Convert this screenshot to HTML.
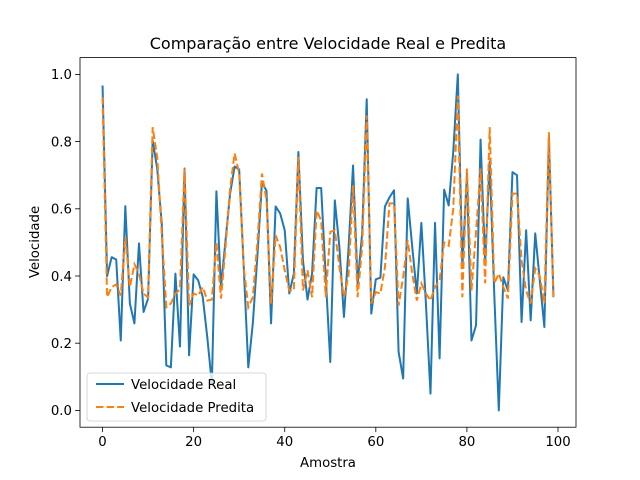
<!DOCTYPE html>
<html><head><meta charset="utf-8"><style>
html,body{margin:0;padding:0;background:#fff;}
svg{display:block;font-family:"DejaVu Sans","Liberation Sans",sans-serif;}
</style></head><body>
<svg id="chart" width="640" height="480" viewBox="0 0 640 480">
<rect width="640" height="480" fill="#fff"/>
<text x="328" y="49" text-anchor="middle" font-size="16" fill="#000">Comparação entre Velocidade Real e Predita</text>
<g id="plot"></g>
<rect x="80" y="57.6" width="496" height="369.6" fill="none" stroke="#000" stroke-width="0.8"/>
<text x="328" y="467" text-anchor="middle" font-size="13.3">Amostra</text>
<text transform="translate(39,242) rotate(-90)" text-anchor="middle" font-size="13.3">Velocidade</text>
<g>
<rect x="87" y="373" width="179" height="48" rx="3" fill="#fff" fill-opacity="0.8" stroke="#ccc" stroke-width="0.8"/>
<g>
<line x1="96" y1="384" x2="124" y2="384" stroke="#1f77b4" stroke-width="2"/>
<text x="131" y="389" font-size="13.3">Velocidade Real</text></g>
<g>
<line x1="96" y1="407" x2="124" y2="407" stroke="#ff7f0e" stroke-width="2" stroke-dasharray="7.4,3.2"/>
<text x="131" y="412" font-size="13.3">Velocidade Predita</text></g>
</g>
</svg>
<script>
const real = [0.967,0.40,0.456,0.449,0.208,0.608,0.318,0.259,0.497,0.293,0.333,0.803,0.72,0.556,0.134,0.128,0.407,0.19,0.72,0.164,0.405,0.387,0.337,0.217,0.08,0.652,0.367,0.506,0.645,0.726,0.717,0.426,0.128,0.26,0.46,0.68,0.653,0.259,0.607,0.586,0.536,0.348,0.407,0.769,0.446,0.33,0.407,0.662,0.662,0.397,0.144,0.625,0.486,0.278,0.48,0.729,0.378,0.527,0.926,0.288,0.39,0.395,0.607,0.634,0.655,0.174,0.095,0.631,0.486,0.348,0.558,0.318,0.05,0.558,0.155,0.657,0.61,0.77,1.0,0.426,0.705,0.208,0.253,0.806,0.44,0.74,0.348,0.0,0.396,0.357,0.709,0.7,0.263,0.536,0.268,0.527,0.387,0.248,0.81,0.337];
const pred = [0.932,0.337,0.367,0.375,0.342,0.516,0.367,0.435,0.407,0.348,0.336,0.843,0.754,0.527,0.307,0.318,0.348,0.36,0.72,0.312,0.348,0.342,0.367,0.327,0.33,0.5,0.333,0.486,0.66,0.765,0.705,0.426,0.307,0.337,0.5,0.705,0.625,0.318,0.521,0.486,0.417,0.357,0.357,0.754,0.357,0.417,0.337,0.595,0.565,0.337,0.531,0.536,0.426,0.337,0.4,0.67,0.337,0.486,0.878,0.318,0.352,0.348,0.426,0.616,0.616,0.312,0.397,0.506,0.407,0.327,0.378,0.348,0.327,0.367,0.387,0.5,0.49,0.6,0.937,0.337,0.72,0.357,0.531,0.72,0.378,0.843,0.378,0.407,0.367,0.333,0.645,0.645,0.446,0.357,0.318,0.422,0.4,0.318,0.828,0.333];
const xTicks = [0,20,40,60,80,100];
const yTicks = [0.0,0.2,0.4,0.6,0.8,1.0];
const NS = "http://www.w3.org/2000/svg";
const L=80,R=576,T=57.6,B=427.2;
const xMin=-4.95,xMax=103.95,yMin=-0.05,yMax=1.05;
function sx(v){return L+(v-xMin)/(xMax-xMin)*(R-L);}
function sy(v){return B-(v-yMin)/(yMax-yMin)*(B-T);}
const plot=document.getElementById('plot');
function mk(tag,attrs){const e=document.createElementNS(NS,tag);for(const k in attrs)e.setAttribute(k,attrs[k]);return e;}
xTicks.forEach(t=>{
  const g=mk('g',{});
  
  
  g.appendChild(mk('line',{x1:sx(t),x2:sx(t),y1:B,y2:B+4.9,stroke:'#000','stroke-width':0.8}));
  const tx=mk('text',{x:sx(t),y:B+19,'text-anchor':'middle','font-size':13.3});
  tx.textContent=String(t);g.appendChild(tx);plot.appendChild(g);
});
yTicks.forEach(t=>{
  const g=mk('g',{});
  
  
  g.appendChild(mk('line',{x1:L-4.9,x2:L,y1:sy(t),y2:sy(t),stroke:'#000','stroke-width':0.8}));
  const tx=mk('text',{x:L-8,y:sy(t)+4.8,'text-anchor':'end','font-size':13.3});
  tx.textContent=t.toFixed(1);g.appendChild(tx);plot.appendChild(g);
});
function pts(arr){return arr.map((v,i)=>sx(i).toFixed(2)+','+sy(v).toFixed(2)).join(' ');}
const lr=mk('polyline',{points:pts(real),fill:'none',stroke:'#1f77b4','stroke-width':2,'stroke-linejoin':'round'});


plot.appendChild(lr);
const lp=mk('polyline',{points:pts(pred),fill:'none',stroke:'#ff7f0e','stroke-width':2,'stroke-dasharray':'7.4,3.2'});


plot.appendChild(lp);
</script>
</body></html>
